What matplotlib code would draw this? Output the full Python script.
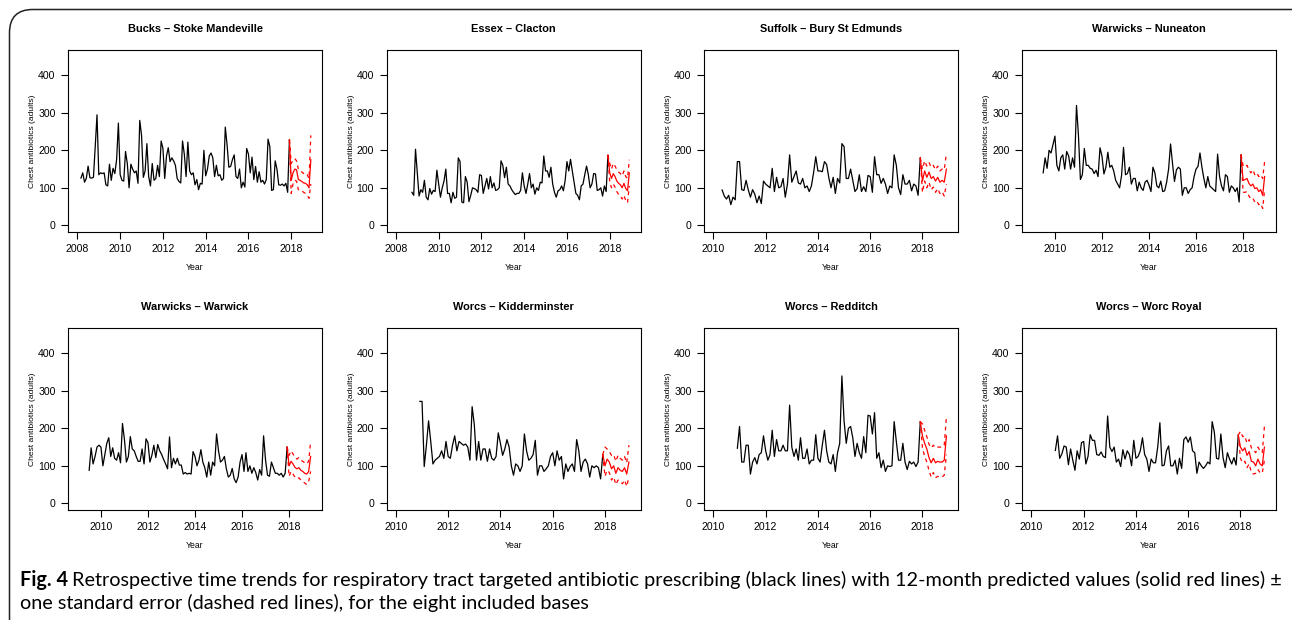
import numpy as np
import matplotlib.pyplot as plt
from matplotlib.patches import FancyBboxPatch

plt.rcParams['font.family'] = ['Liberation Sans', 'DejaVu Sans']

titles = ['Bucks \u2013 Stoke Mandeville', 'Essex \u2013 Clacton', 'Suffolk \u2013 Bury St Edmunds',
          'Warwicks \u2013 Nuneaton', 'Warwicks \u2013 Warwick', 'Worcs \u2013 Kidderminster',
          'Worcs \u2013 Redditch', 'Worcs \u2013 Worc Royal']

# first observed month (year, month) for each base
starts = [(2008, 3), (2008, 10), (2010, 5), (2009, 7), (2009, 7), (2010, 12), (2010, 12), (2010, 12)]
# x-axis range used for each panel
xranges = [(2008, 2019), (2008, 2019), (2010, 2019), (2009, 2019),
           (2009, 2019), (2010, 2019), (2010, 2019), (2010, 2019)]
first_tick = [2008, 2008, 2010, 2010, 2010, 2010, 2010, 2010]

bucks = [126, 140, 115, 125, 158, 127, 126, 128, 210, 295,
         135, 140, 138, 140, 108, 105, 163, 120, 152, 138, 175, 273,
         135, 120, 118, 197, 165, 100, 163, 150, 140, 145, 112, 280,
         240, 128, 145, 218, 130, 105, 165, 120, 125, 160, 130, 225,
         205, 125, 185, 207, 170, 180, 172, 160, 125, 117, 113, 225,
         190, 130, 222, 145, 135, 140, 108, 122, 95, 112, 110, 200,
         132, 150, 185, 193, 180, 130, 160, 132, 135, 120, 125, 262,
         215, 155, 157, 175, 188, 130, 125, 150, 100, 115, 102, 205,
         190, 140, 182, 122, 157, 115, 143, 115, 120, 110, 122, 230,
         210, 93, 95, 172, 150, 108, 107, 110, 105, 112, 88, 228]
essex = [88, 80, 203,
         140, 78, 95, 88, 120, 75, 68, 98, 83, 93, 90, 147,
         110, 75, 100, 118, 150, 85, 85, 60, 88, 72, 75, 180,
         170, 62, 60, 130, 115, 63, 80, 100, 98, 95, 88, 135,
         133, 85, 105, 125, 97, 130, 100, 113, 93, 95, 100, 172,
         160, 127, 155, 110, 105, 95, 88, 82, 85, 85, 93, 140,
         105, 85, 110, 138, 100, 110, 83, 100, 93, 115, 113, 185,
         145, 145, 128, 155, 110, 88, 75, 92, 95, 105, 92, 120,
         170, 145, 176, 145, 115, 85, 80, 68, 105, 110, 135, 158,
         135, 100, 110, 138, 137, 93, 95, 100, 78, 105, 90, 187]
suffolk = [94, 78, 70, 80, 55, 75, 68, 170,
           170, 95, 93, 120, 95, 75, 95, 83, 60, 78, 58, 118,
           110, 105, 100, 152, 90, 128, 100, 103, 125, 75, 110, 188,
           115, 130, 145, 113, 110, 125, 100, 105, 90, 105, 140, 183,
           145, 145, 143, 170, 162, 127, 100, 128, 85, 125, 113, 218,
           210, 125, 125, 150, 120, 90, 98, 135, 90, 103, 90, 133,
           130, 88, 183, 135, 135, 112, 125, 110, 85, 105, 100, 188,
           160, 100, 82, 135, 110, 110, 120, 92, 110, 105, 80, 180]
nuneaton = [140, 180, 152, 200, 193, 215,
            238, 160, 145, 180, 188, 150, 197, 185, 150, 180, 155, 320,
            240, 122, 135, 205, 160, 160, 152, 150, 138, 147, 130, 207,
            185, 137, 155, 195, 155, 160, 145, 120, 110, 100, 133, 208,
            135, 138, 155, 110, 125, 125, 92, 115, 100, 93, 115, 120,
            107, 90, 155, 140, 105, 100, 118, 90, 92, 115, 150, 217,
            165, 117, 148, 155, 150, 80, 100, 100, 85, 95, 100, 130,
            150, 157, 193, 155, 125, 100, 130, 105, 100, 95, 90, 190,
            130, 105, 92, 135, 130, 88, 105, 100, 90, 100, 62, 188]
warwick = [88, 148, 105, 125, 150, 155,
           150, 100, 130, 160, 175, 125, 148, 120, 115, 135, 108, 213,
           170, 110, 125, 178, 145, 140, 125, 112, 112, 145, 105, 172,
           162, 110, 128, 155, 122, 157, 140, 130, 117, 105, 92, 177,
           95, 120, 105, 120, 102, 102, 78, 82, 78, 80, 78, 138,
           125, 100, 115, 143, 110, 95, 70, 110, 75, 110, 100, 185,
           140, 110, 115, 125, 92, 70, 75, 93, 65, 55, 70, 110,
           130, 85, 135, 85, 100, 80, 95, 82, 62, 90, 75, 180,
           115, 75, 72, 110, 95, 80, 80, 75, 80, 70, 80, 150]
kidderminster = [272,
                 272, 98, 155, 220, 165, 105, 115, 120, 125, 140, 120, 165,
                 125, 120, 155, 180, 140, 165, 160, 155, 158, 150, 115, 258,
                 210, 115, 165, 115, 145, 145, 112, 145, 120, 115, 125, 188,
                 160, 128, 145, 170, 150, 100, 75, 105, 100, 85, 100, 185,
                 140, 115, 120, 130, 168, 75, 100, 100, 85, 92, 100, 125,
                 135, 100, 140, 115, 125, 65, 105, 85, 98, 105, 85, 170,
                 140, 85, 110, 118, 105, 70, 100, 95, 100, 95, 65, 130]
redditch = [147,
            205, 110, 110, 155, 155, 78, 110, 122, 105, 130, 135, 180,
            140, 115, 130, 195, 125, 170, 140, 140, 155, 140, 140, 262,
            150, 125, 145, 115, 175, 120, 120, 145, 105, 115, 115, 183,
            120, 110, 155, 195, 140, 110, 105, 130, 85, 135, 160, 340,
            220, 160, 200, 205, 175, 125, 160, 135, 120, 178, 135, 235,
            233, 185, 242, 120, 135, 95, 115, 85, 100, 98, 100, 218,
            165, 115, 115, 160, 110, 90, 112, 105, 110, 98, 110, 218]
worc_royal = [141,
              180, 120, 132, 153, 150, 103, 145, 115, 88, 140, 118, 162,
              165, 105, 125, 183, 168, 168, 130, 128, 137, 125, 122, 233,
              150, 138, 150, 110, 118, 98, 143, 118, 140, 130, 100, 168,
              120, 125, 140, 175, 130, 118, 85, 118, 108, 108, 150, 215,
              100, 102, 140, 153, 100, 100, 115, 78, 120, 93, 170, 177,
              163, 177, 140, 135, 80, 110, 100, 93, 100, 110, 105, 218,
              190, 120, 118, 185, 122, 95, 135, 118, 105, 122, 102, 182]

# 12-month predictions, Dec 2017 (last observed) to Dec 2018
pred_mean = [
    [228, 120, 140, 150, 148, 122, 120, 117, 113, 112, 108, 100, 175],
    [187, 140, 125, 138, 130, 118, 112, 108, 100, 112, 98, 92, 140],
    [180, 118, 145, 128, 142, 125, 130, 118, 128, 115, 120, 115, 150],
    [188, 120, 122, 125, 112, 105, 110, 98, 100, 90, 95, 80, 130],
    [150, 100, 112, 105, 96, 92, 95, 88, 85, 80, 78, 85, 125],
    [130, 100, 118, 110, 92, 100, 80, 95, 88, 85, 95, 78, 110],
    [218, 180, 160, 145, 122, 108, 120, 108, 112, 110, 110, 115, 180],
    [182, 150, 140, 148, 128, 138, 112, 110, 100, 118, 105, 100, 150]]
pred_upper = [
    [228, 165, 175, 178, 172, 150, 145, 142, 138, 140, 135, 125, 240],
    [187, 165, 150, 165, 158, 148, 142, 138, 132, 145, 130, 125, 175],
    [180, 150, 172, 158, 168, 155, 160, 148, 158, 145, 150, 148, 192],
    [188, 160, 155, 160, 148, 140, 148, 135, 140, 130, 135, 125, 170],
    [150, 128, 140, 132, 122, 118, 122, 115, 112, 108, 105, 112, 165],
    [130, 150, 145, 138, 128, 130, 112, 128, 120, 115, 125, 108, 155],
    [218, 212, 195, 178, 158, 148, 155, 148, 150, 150, 150, 155, 230],
    [182, 192, 178, 180, 160, 170, 148, 142, 135, 150, 140, 135, 205]]
pred_lower = [
    [228, 85, 110, 120, 118, 95, 95, 92, 88, 85, 80, 72, 110],
    [187, 115, 100, 110, 102, 90, 82, 78, 70, 80, 66, 60, 105],
    [180, 88, 118, 100, 115, 95, 102, 88, 98, 85, 90, 78, 110],
    [188, 88, 88, 90, 78, 70, 72, 62, 65, 55, 58, 45, 95],
    [150, 72, 85, 78, 70, 66, 68, 62, 58, 54, 50, 58, 85],
    [130, 72, 88, 82, 62, 70, 50, 62, 58, 52, 62, 45, 70],
    [218, 148, 125, 110, 88, 70, 82, 68, 72, 70, 70, 75, 130],
    [182, 120, 108, 112, 95, 105, 82, 78, 80, 90, 82, 80, 115]]

observed = [bucks, essex, suffolk, nuneaton, warwick, kidderminster, redditch, worc_royal]

caption_bold = 'Fig. 4'
caption_line1 = ('Retrospective time trends for respiratory tract targeted antibiotic prescribing '
                 '(black lines) with 12-month predicted values (solid red lines) \u00b1')
caption_line2 = 'one standard error (dashed red lines), for the eight included bases'
cap_family = ['Lato', 'DejaVu Sans']

W, H = 1292, 620
fig = plt.figure(figsize=(W / 100, H / 100), dpi=100)

# rounded frame around the whole figure
frame = FancyBboxPatch((9.5 / W, -0.05), (W - 9.5) / W + 0.05, 1 - 9.5 / H + 0.05,
                       boxstyle='round,pad=0,rounding_size=0.018', transform=fig.transFigure,
                       fill=False, edgecolor='#222222', linewidth=1.1, mutation_aspect=W / H)
fig.patches.append(frame)

lefts = [68, 386.5, 704, 1022]
tops = [50, 328]
aw, ah = 254, 182

for i in range(8):
    r, c = divmod(i, 4)
    ax = fig.add_axes([lefts[c] / W, (H - tops[r] - ah) / H, aw / W, ah / H])
    y0, m0 = starts[i]
    vals = np.array(observed[i])
    t = y0 + (m0 - 1) / 12 + np.arange(len(vals)) / 12
    ax.plot(t, vals, color='black', lw=0.9)
    tp = 2017 + 11 / 12 + np.arange(13) / 12
    ax.plot(tp, pred_mean[i], color='red', lw=0.9)
    ax.plot(tp, pred_upper[i], color='red', lw=0.9, ls=(0, (3, 3)))
    ax.plot(tp, pred_lower[i], color='red', lw=0.9, ls=(0, (3, 3)))

    xa, xb = xranges[i]
    ext = (xb - xa) * 0.04
    ax.set_xlim(xa - ext, xb + ext)
    ax.set_ylim(-18, 468)
    ax.set_xticks(range(first_tick[i], 2019, 2))
    ax.set_yticks([0, 100, 200, 300, 400])
    ax.tick_params(direction='out', length=5, width=0.8, labelsize=7.6, pad=4)
    for s in ax.spines.values():
        s.set_linewidth(0.8)
    ax.text(0.5, 1 + 21 / ah, titles[i], transform=ax.transAxes, ha='center', va='center',
            fontsize=7.9, fontweight='bold')
    ax.set_ylabel('Chest antibiotics (adults)', fontsize=6.1)
    ax.yaxis.set_label_coords(-31.5 / aw, 0.5)
    ax.set_xlabel('Year', fontsize=6.2)
    ax.xaxis.set_label_coords(0.5, -31 / ah)

# caption, sized so the first line runs across the frame
renderer = fig.canvas.get_renderer()
cap_x0, cap_x1 = 20, 1280
size = 13
tb = fig.text(cap_x0 / W, 1 - 580 / H, caption_bold, fontsize=size, fontweight='bold',
              family=cap_family, va='center')
tr = fig.text(0, 1 - 580 / H, caption_line1, fontsize=size, family=cap_family, va='center')
wb = tb.get_window_extent(renderer).width
wr = tr.get_window_extent(renderer).width
gap = 0.3 * size
scale = (cap_x1 - cap_x0) / (wb + wr + gap)
size = size * scale
tb.set_fontsize(size)
tr.set_fontsize(size)
wb = tb.get_window_extent(renderer).width
tr.set_x((cap_x0 + wb + 0.3 * size) / W)
fig.text(cap_x0 / W, 1 - 603 / H, caption_line2, fontsize=size, family=cap_family, va='center')

fig.savefig('out.png', dpi=100)
